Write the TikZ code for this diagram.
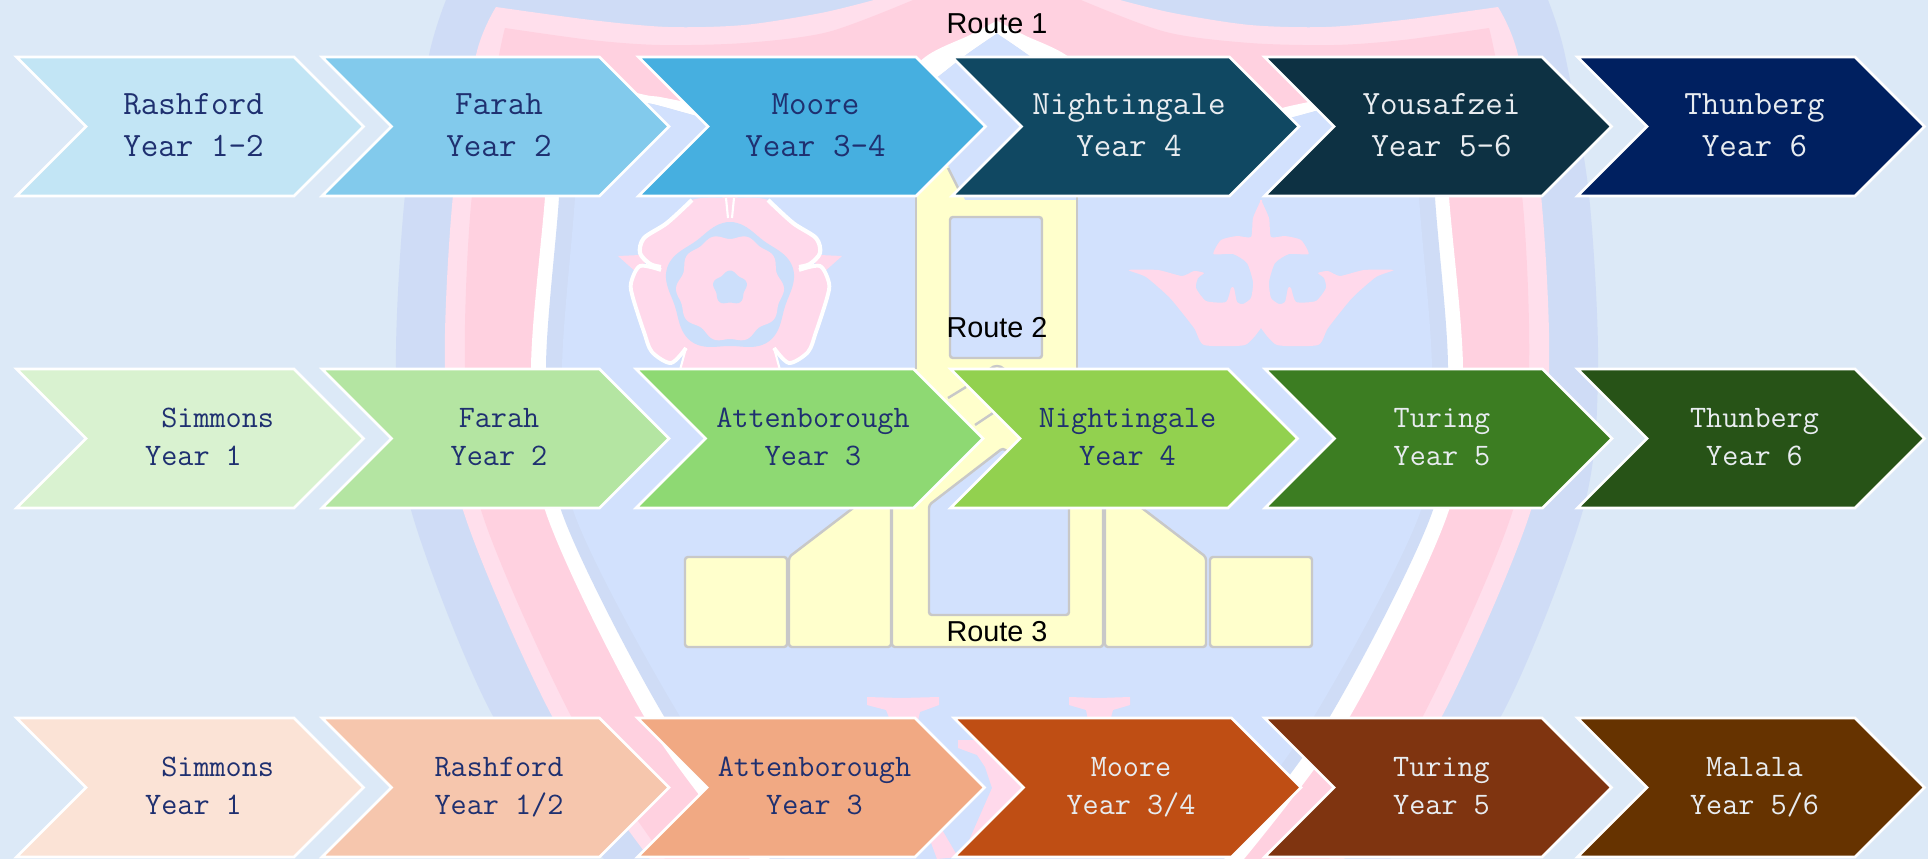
\documentclass[tikz,border=0pt]{standalone}
\usepackage{xcolor}
\usepackage{fontspec}
\usetikzlibrary{shapes,shapes.symbols,positioning}
\newfontfamily\routefont{Liberation Sans}
\definecolor{pagebg}{RGB}{220,233,247}
\definecolor{crestperi}{RGB}{207,220,246}
\definecolor{crestlight}{RGB}{255,223,236}
\definecolor{crestpink}{RGB}{255,209,224}
\definecolor{crestinner}{RGB}{210,225,253}
\definecolor{rosepink}{RGB}{255,217,235}
\definecolor{rosering}{RGB}{204,223,251}
\definecolor{towerfill}{RGB}{255,255,204}
\definecolor{towerline}{RGB}{200,200,200}
\definecolor{navytext}{RGB}{31,48,112}
\definecolor{palelabel}{RGB}{232,236,240}
\newcommand{\chevtext}[2]{\hspace*{4pt}\rule[-.28\baselineskip]{0pt}{\baselineskip}#1\\\hspace*{4pt}\rule[-.28\baselineskip]{0pt}{\baselineskip}#2}
\tikzset{
  chevron/.style={shape=signal, signal to=east, signal from=west,
    signal pointer angle=90, draw=white, line width=1.5pt,
    minimum width=6.94cm, minimum height=2.78cm, inner sep=0pt,
    align=center, text=navytext},
  rowone/.style={font=\fontsize{19.4}{23.8}\selectfont\ttfamily},
  rowtwo/.style={font=\fontsize{17.8}{21.6}\selectfont\ttfamily},
  towerpart/.style={draw=towerline, fill=towerfill, line width=1.4pt,
    rounded corners=1.7pt},
  routelabel/.style={font=\routefont\fontsize{16.4}{18}\selectfont, text=black}
}
\begin{document}
\begin{tikzpicture}[x=0.02cm,y=-0.02cm]
    \useasboundingbox (0,0) rectangle (1928,859);
    \fill[pagebg] (0,0) rectangle (1928,859);
    \foreach \xs/\xo in {1/0,-1/1994}{
      \begin{scope}[xscale=\xs,shift={(-\xo,0)}]
        \fill[crestperi] plot[smooth] coordinates {(446,0) (429,55) (405,195) (396,370) (411,510) (494,718) (604,859)}
          -- (998,859) -- (998,0) -- cycle;
        \fill[crestlight] plot[smooth] coordinates {(874,0) (821,13) (744,25) (668,27) (591,20) (496,7)}
          -- plot[smooth] coordinates {(496,7) (476,55) (453,195) (445,370) (463,510) (553,718) (650,859)}
          -- (998,859) -- (998,0) -- cycle;
        \fill[crestpink] plot[smooth] coordinates {(913,0) (828,32) (744,43) (660,45) (591,40) (505,28)}
          -- plot[smooth] coordinates {(505,28) (499,55) (472,195) (465,370) (481,510) (572,718) (665,859)}
          -- (998,859) -- (998,0) -- cycle;
        \fill[white] plot[smooth] coordinates {(998,20) (970,35) (928,55) (880,95) (800,128) (704,106) (660,97) (641,94) (553,72)}
          -- plot[smooth] coordinates {(553,72) (545,197) (531,370) (545,510) (645,718) (750,859)}
          -- (998,859) -- (998,20) -- cycle;
        \fill[crestperi] plot[smooth] coordinates {(998,33) (966,55) (920,90) (860,125) (800,142) (704,118) (660,106) (641,102) (562,88)}
          -- plot[smooth] coordinates {(562,88) (559,197) (546,370) (561,510) (665,718) (770,859)}
          -- (998,859) -- (998,33) -- cycle;
        \fill[crestinner] plot[smooth] coordinates {(998,33) (966,55) (920,90) (860,125) (800,142) (704,118) (660,106) (641,102) (578,92)}
          -- plot[smooth] coordinates {(578,92) (575,197) (562,370) (573,510) (681,718) (785,859)}
          -- (998,859) -- (998,33) -- cycle;
      \end{scope}
    }
    \foreach \xs/\xo in {1/0,-1/1460}{
      \begin{scope}[xscale=\xs,shift={(-\xo,0)}]
        \fill[rosepink] (618,256) -- (640,255) -- (646,262) -- (636,272) -- cycle;
        \fill[rosepink] (731,190) -- (722,198)
          -- plot[smooth] coordinates {(722,198) (692,200) (667,223) (644,238) (640,253) (650,264) (661,267)}
          -- plot[smooth] coordinates {(661,270) (640,266) (631,283) (633,298) (644,332) (652,352) (671,363) (686,348)}
          -- (680,372) -- (731,372) -- cycle;
        \draw[white,line width=2.4pt] plot[smooth] coordinates {(692,200) (667,223) (644,238) (640,253) (650,264) (661,267)};
        \draw[white,line width=2.2pt] plot[smooth] coordinates {(661,270) (640,266) (631,283) (633,298) (644,332) (652,352) (671,363) (686,348)};
        \draw[white,line width=1.2pt] (686,348) -- (680,370);
        \draw[white,line width=1.2pt] (726,198) -- (728,218);
      \end{scope}
    }
    \begin{scope}[shift={(730,288)}]
      \fill[rosering] plot[domain=0:360,samples=121,smooth] (\x:{62+4*cos(5*(\x-270))}) -- cycle;
      \fill[rosepink] plot[domain=0:360,samples=121,smooth] (\x:{52-1*cos(5*(\x-270))-2*cos(10*(\x-270))}) -- cycle;
      \fill[rosering] plot[domain=0:360,samples=61,smooth] (\x:{16+1.5*cos(5*(\x-270))}) -- cycle;
    \end{scope}
    \foreach \xs/\xo in {1/0,-1/2522}{
      \begin{scope}[xscale=\xs,shift={(-\xo,0)}]
        \fill[rosepink] plot[smooth,tension=0.35] coordinates {(1261,200) (1253,218) (1251,237) (1237,236) (1221,240) (1213.5,254)
          (1233,254) (1247,263) (1253,282) (1251,298) (1243,304) (1237,302) (1234,288) (1231,288) (1226,302) (1206,301)
          (1196,288) (1198,278) (1204,273) (1194,271) (1182,276) (1158,270) (1128.5,270) (1146,277) (1170,298) (1194,328)
          (1204,345) (1245,345) (1261,328)} -- (1262,328) -- (1262,200) -- cycle;
      \end{scope}
    }
    \fill[rosepink] (867,697) -- (901,698) -- (939,697) -- (939,705) -- (920,712) -- (917,725) -- (892,725) -- (886,710) -- (867,705) -- cycle;
    \fill[rosepink] (1069,697) -- (1099,698) -- (1130,697) -- (1130,705) -- (1113,710) -- (1109,725) -- (1089,725) -- (1086,710) -- (1069,705) -- cycle;
    \fill[rosepink] (958,740) -- (958,748) -- (977,755) -- (985,767) -- (992,788) -- (967,845) -- (1000,845) -- (1030,788) -- (1000,740) -- cycle;
    \fill[rosepink] (941,828) -- (958,857) -- (937,859) -- (930,840) -- cycle;
    \fill[towerfill] (892,647) -- (892,500) -- (916,500) -- (916,190) -- (945,160) -- (965,200) -- (1077,200) -- (1077,500) -- (1103,500) -- (1103,647) -- cycle;
    \draw[towerline,line width=1.4pt] (916,197) -- (916,369);
    \draw[towerline,line width=1.4pt] (1077,197) -- (1077,369);
    \draw[towerline,line width=1.4pt] (948,168) -- (960,192);
    \draw[towerline,line width=1.4pt] (948,398) -- (966,387);
    \draw[towerline,line width=1.4pt] (975,425) -- (993,413);
    \draw[towerline,line width=1.4pt] (990,369) .. controls (994,365) and (1000,365) .. (1004,369);
    \draw[towerpart,fill=crestinner] (950,217) rectangle (1042,358);
    \draw[towerpart,fill=crestinner] (929,615) -- (929,505) -- (1003,448) -- (1069,505) -- (1069,615) -- cycle;
    \draw[towerline,line width=1.4pt,rounded corners=1.7pt] (892,509) -- (892,647) -- (1103,647) -- (1103,509);
    \draw[towerpart] (685,557) rectangle (787,647);
    \draw[towerpart] (789,557) -- (857,505) -- (891,505) -- (891,647) -- (789,647) -- cycle;
    \draw[towerpart] (1206,557) -- (1138,505) -- (1105,505) -- (1105,647) -- (1206,647) -- cycle;
    \draw[towerpart] (1210,557) rectangle (1312,647);
    \node[routelabel] (route1) at (997,24) {Route 1};
    \node[routelabel] (route2) at (997,328) {Route 2};
    \node[routelabel] (route3) at (997,632) {Route 3};
    \foreach \cx/\col/\ink/\nme/\yr [count=\i] in {
        190/C2E5F5/navytext/Rashford/Year 1-2,
        495.5/82CAEC/navytext/Farah/Year 2,
        812/46AFE0/navytext/Moore/Year 3-4,
        1125.5/104862/palelabel/Nightingale/Year 4,
        1438/0D3143/palelabel/Yousafzei/Year 5-6,
        1751/002060/palelabel/Thunberg/Year 6}{
      \definecolor{cfill}{HTML}{\col}
      \node[chevron, rowone, fill=cfill, text=\ink] (rowa\i) at (\cx,126.5) {\chevtext{\nme}{\yr}};
    }
    \foreach \cx/\col/\ink/\nme/\yr [count=\i] in {
        190/D9F2D0/navytext/{\ \ \ Simmons}/Year 1,
        495.5/B4E5A2/navytext/Farah/Year 2,
        809.5/8ED973/navytext/Attenborough/Year 3,
        1124/92D14F/navytext/Nightingale/Year 4,
        1438.5/3C7D22/palelabel/Turing/Year 5,
        1751/275317/palelabel/Thunberg/Year 6}{
      \definecolor{cfill}{HTML}{\col}
      \node[chevron, rowtwo, fill=cfill, text=\ink] (rowb\i) at (\cx,438.5) {\chevtext{\nme}{\yr}};
    }
    \foreach \cx/\col/\ink/\nme/\yr [count=\i] in {
        190/FBE3D6/navytext/{\ \ \ Simmons}/Year 1,
        495.5/F6C6AD/navytext/Rashford/{Year 1/2},
        811/F1A983/navytext/Attenborough/Year 3,
        1127.5/BF4E14/palelabel/Moore/{Year 3/4},
        1438/7F3410/palelabel/Turing/Year 5,
        1751/663300/palelabel/Malala/{Year 5/6}}{
      \definecolor{cfill}{HTML}{\col}
      \node[chevron, rowtwo, fill=cfill, text=\ink] (rowc\i) at (\cx,787.5) {\chevtext{\nme}{\yr}};
    }
  \end{tikzpicture}
\end{document}
